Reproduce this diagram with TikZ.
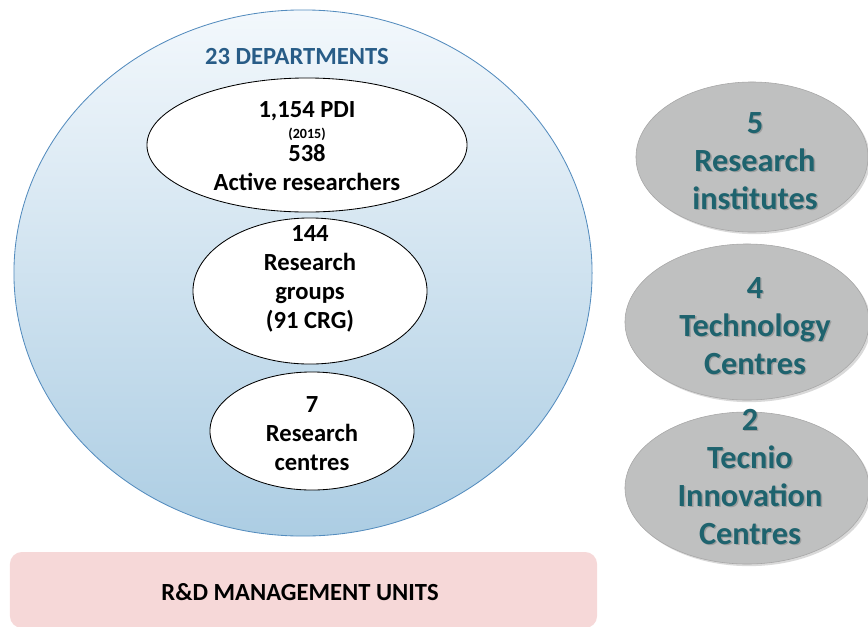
\documentclass[tikz,border=0pt]{standalone}
\usepackage{fontspec}
\setmainfont{Carlito}
\usetikzlibrary{shapes.geometric,shadows}

\definecolor{deptblue}{RGB}{40,92,135}
\definecolor{deptline}{RGB}{84,140,190}
\definecolor{depttop}{RGB}{243,248,252}
\definecolor{deptbottom}{RGB}{172,205,227}
\definecolor{unitgray}{RGB}{191,192,192}
\definecolor{unitteal}{RGB}{30,99,110}
\definecolor{mgmtpink}{RGB}{246,216,216}

\begin{document}
\begin{tikzpicture}[x=0.025cm,y=-0.025cm]
       \tikzset{
         every node/.style={inner sep=0pt, outer sep=0pt},
         blob/.style={ellipse, draw=black, line width=0.6pt, fill=white},
         unit/.style={ellipse, draw=gray!70, line width=0.4pt, fill=unitgray,
                      drop shadow={shadow xshift=1.5pt, shadow yshift=-1.5pt, opacity=0.3}},
         lefttext/.style={align=center, font=\fontsize{17.5}{20.6}\selectfont\bfseries},
         righttext/.style={align=center, text=unitteal, font=\fontsize{23}{27}\selectfont\bfseries},
         shadowtext/.style={righttext, text=black, opacity=0.18}
       }
       \useasboundingbox (0,0) rectangle (868,626);

       % departments
       \node[ellipse, draw=deptline, line width=0.6pt, top color=depttop, bottom color=deptbottom,
             minimum width=14.45cm, minimum height=13.15cm] (dept) at (303,273) {};
       \node[text=deptblue, font=\fontsize{17.5}{20}\selectfont\bfseries] (dept title) at (297,57) {23 DEPARTMENTS};

       \node[blob, minimum width=8cm, minimum height=3.35cm] (pdi) at (307,145) {};
       \node[lefttext] (pdi text) at (pdi.center) [yshift=-1pt]
             {1,154 PDI\\[-6pt]{\fontsize{10}{11}\selectfont (2015)}\\[-4pt]538\\Active researchers};

       \node[blob, minimum width=5.85cm, minimum height=3.65cm] (groups) at (310,291) {};
       \node[lefttext] (groups text) at (310,279) {144\\Research\\groups\\(91 CRG)};

       \node[blob, minimum width=5.1cm, minimum height=2.95cm] (centres) at (312,431) {};
       \node[lefttext] (centres text) at (312,434) {7\\Research\\centres};

       % management units
       \node[draw=none, fill=mgmtpink, rounded corners=0.3cm,
             minimum width=14.675cm, minimum height=1.9cm] (mgmt) at (303.5,590) {};
       \node[font=\fontsize{17.5}{20}\selectfont\bfseries] (mgmt text) at (300,592) {R\&D MANAGEMENT UNITS};

       % institutes and centres
       \foreach \name/\cx/\cy/\tx/\ty/\w/\h/\txt in
         {inst/752/157/755/161/5.8/3.75/{5\\Research\\institutes},
          tech/747/322/755/326/6.1/3.9/{4\\Technology\\Centres},
          tecnio/747/488/750/477/6.1/3.8/{2\\Tecnio\\Innovation\\Centres}}
       {
         \node[unit, minimum width=\w cm, minimum height=\h cm] (\name) at (\cx,\cy) {};
         \node[shadowtext] (\name shadow) at (\tx,\ty) [xshift=1pt,yshift=-1pt] {\txt};
         \node[righttext] (\name text) at (\tx,\ty) {\txt};
       }
\end{tikzpicture}
\end{document}
